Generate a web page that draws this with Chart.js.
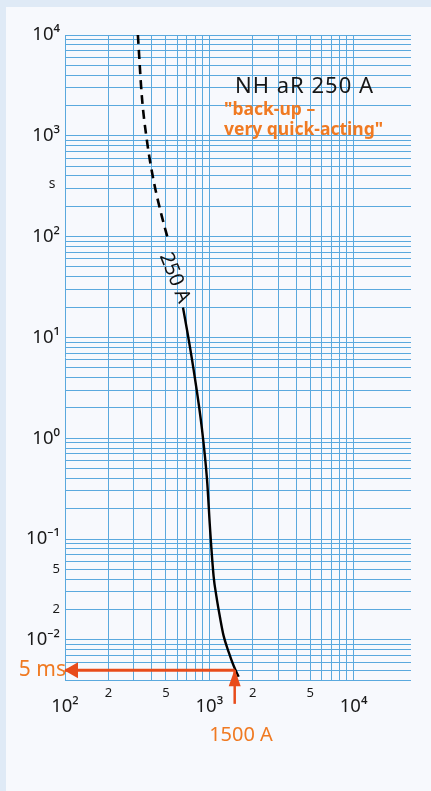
<!DOCTYPE html>
<html><head><meta charset="utf-8">
<script src="https://cdn.jsdelivr.net/npm/chart.js@4/dist/chart.umd.min.js"></script>
<style>
html,body{margin:0;padding:0;width:431px;height:791px;overflow:hidden;background:#dfeaf6;}
#panel{position:absolute;left:6px;top:7px;right:0;bottom:0;background:#f7f9fd;}
#c{position:absolute;left:0;top:0;}
</style></head><body>
<div id="panel"></div>
<canvas id="c" width="431" height="791"></canvas>
<script>
// ---- data (prospective current in A, time in s) ----
const dashedCurrent = [320, 341, 369, 410, 469, 522];
const dashedTime    = [10000, 2450, 912, 367, 159, 90];
const solidCurrent  = [657, 700, 778, 890, 964, 1016, 1071, 1119, 1192, 1257, 1361, 1475, 1597];
const solidTime     = [19.8, 12.0, 4.82, 1.23, 0.393, 0.117, 0.0430, 0.0273, 0.0161, 0.01096, 0.0076, 0.00553, 0.0043];

const markCurrent = 1500;      // A
const markTime = 0.005;        // s (5 ms)
const arrowTailTime = 0.00232; // below the axis
const axisMinCurrent = 100;

// ---- axis ranges, grid and tick labels ----
const xMin = 100, xMax = 25000;
const yMin = 0.004, yMax = 10000;
const gridMantissas = [1, 2, 3, 4, 5, 6, 7, 8, 9];
const xDecades = [100, 1000, 10000];
const yDecades = [0.001, 0.01, 0.1, 1, 10, 100, 1000, 10000];
const xLabelValues = [100, 200, 500, 1000, 2000, 5000, 10000];
const xLabelTexts  = ['10²', '2', '5', '10³', '2', '5', '10⁴'];
const yLabelValues = [10000, 1000, 100, 10, 1, 0.1, 0.05, 0.02, 0.01];
const yLabelTexts  = ['10⁴', '10³', '10²', '10¹', '10⁰', '10⁻¹', '5', '2', '10⁻²'];

const titleText = 'NH aR 250 A';
const subtitleLines = ['"back-up –', 'very quick-acting"'];
const curveLabel = '250 A';
const unitLabel = 's';
const timeMarkLabel = '5 ms';
const currentMarkLabel = '1500 A';

const ORANGE_TEXT = '#f07a22';
const ORANGE_ARROW = '#e84c1b';
const GRID = '#5aa9de';

function gridValues(decades, lo, hi) {
  const out = [];
  decades.forEach(d => gridMantissas.forEach(m => {
    const v = d * m;
    if (v >= lo * (1 - 1e-9) && v <= hi * (1 + 1e-9)) out.push(v);
  }));
  return out;
}
const xGrid = gridValues(xDecades, 100, 10000);
const yGrid = gridValues(yDecades, yMin, yMax);

function findLabel(values, texts, v) {
  for (let i = 0; i < values.length; i++) {
    if (Math.abs(Math.log10(v / values[i])) < 1e-6) return texts[i];
  }
  return '';
}
const isDecadeLabel = t => t.startsWith('10');

Chart.defaults.font.family = "'Noto Sans', 'Open Sans', 'DejaVu Sans', sans-serif";
Chart.defaults.color = '#1a1a1a';

const annot = {
  id: 'annot',
  afterDatasetsDraw(chart) {
    const ctx = chart.ctx;
    chart.data.datasets.forEach((ds, i) => {
      if (!ds.arrowHead) return;
      const pts = chart.getDatasetMeta(i).data;
      const a = pts[pts.length - 2], b = pts[pts.length - 1];
      const ang = Math.atan2(b.y - a.y, b.x - a.x);
      const { len, width } = ds.arrowHead;
      ctx.save();
      ctx.translate(b.x, b.y);
      ctx.rotate(ang);
      ctx.beginPath();
      ctx.moveTo(1, 0);
      ctx.lineTo(-len, -width / 2);
      ctx.lineTo(-len, width / 2);
      ctx.closePath();
      ctx.fillStyle = ds.borderColor;
      ctx.fill();
      ctx.restore();
    });
  },
  afterDraw(chart) {
    const ctx = chart.ctx, xs = chart.scales.x, ys = chart.scales.y;
    const fam = Chart.defaults.font.family;
    ctx.save();
    ctx.textBaseline = 'middle';
    // title
    ctx.fillStyle = '#161616';
    ctx.font = '22px ' + fam;
    ctx.textAlign = 'left';
    ctx.letterSpacing = '1px';
    ctx.fillText(titleText, 235, 87);
    ctx.letterSpacing = '0px';
    ctx.fillStyle = ORANGE_TEXT;
    ctx.font = 'bold 17.5px ' + fam;
    ctx.fillText(subtitleLines[0], 224, 110);
    ctx.fillText(subtitleLines[1], 224, 130);
    // unit
    ctx.fillStyle = '#1a1a1a';
    ctx.font = '14px ' + fam;
    ctx.textAlign = 'center';
    ctx.fillText(unitLabel, 52, 184);
    // curve label
    ctx.save();
    ctx.translate(xs.getPixelForValue(575), ys.getPixelForValue(39));
    ctx.rotate(68 * Math.PI / 180);
    ctx.font = '20px ' + fam;
    ctx.fillStyle = '#111';
    ctx.fillText(curveLabel, 0, 0);
    ctx.restore();
    // marks
    ctx.fillStyle = ORANGE_TEXT;
    ctx.font = '21px ' + fam;
    ctx.textAlign = 'right';
    ctx.fillText(timeMarkLabel, 66, ys.getPixelForValue(markTime));
    ctx.font = '20px ' + fam;
    ctx.textAlign = 'center';
    ctx.fillText(currentMarkLabel, 241, 735);
    ctx.restore();
  }
};

new Chart(document.getElementById('c'), {
  type: 'line',
  data: {
    datasets: [
      {
        label: 'up arrow',
        data: [{ x: markCurrent, y: arrowTailTime }, { x: markCurrent, y: markTime }],
        borderColor: ORANGE_ARROW, borderWidth: 2.5, pointRadius: 0, clip: false,
        arrowHead: { len: 16, width: 12 }
      },
      {
        label: '5 ms arrow',
        data: [{ x: markCurrent, y: markTime }, { x: axisMinCurrent, y: markTime }],
        borderColor: ORANGE_ARROW, borderWidth: 3, pointRadius: 0, clip: false,
        arrowHead: { len: 13, width: 16 }
      },
      {
        label: '250 A (pre-arcing)',
        data: dashedCurrent.map((c, i) => ({ x: c, y: dashedTime[i] })),
        borderColor: '#000', borderWidth: 2.6, borderDash: [9, 6],
        pointRadius: 0, cubicInterpolationMode: 'monotone'
      },
      {
        label: '250 A',
        data: solidCurrent.map((c, i) => ({ x: c, y: solidTime[i] })),
        borderColor: '#000', borderWidth: 2.4,
        pointRadius: 0, cubicInterpolationMode: 'monotone'
      }
    ]
  },
  options: {
    responsive: false,
    devicePixelRatio: 1,
    animation: false,
    layout: { padding: { left: 6, top: 35, right: 20, bottom: 71 } },
    plugins: { legend: { display: false }, tooltip: { enabled: false } },
    scales: {
      x: {
        type: 'logarithmic', position: 'bottom', min: xMin, max: xMax,
        afterBuildTicks: s => { s.ticks = xGrid.map(v => ({ value: v })); },
        afterFit: s => { s.height = 40; },
        border: { display: false },
        grid: { color: GRID, lineWidth: 1, drawTicks: false },
        ticks: {
          autoSkip: false, maxRotation: 0, minRotation: 0, padding: 5,
          color: '#1a1a1a',
          callback: v => {
            const t = findLabel(xLabelValues, xLabelTexts, v);
            return isDecadeLabel(t) ? ['', t] : t;
          },
          font: ctx => {
            const t = findLabel(xLabelValues, xLabelTexts, ctx.tick.value);
            return isDecadeLabel(t) ? { size: 18.5, lineHeight: 0.78 } : { size: 13, lineHeight: 1.2 };
          }
        }
      },
      y: {
        type: 'logarithmic', position: 'left', min: yMin, max: yMax,
        afterBuildTicks: s => { s.ticks = yGrid.map(v => ({ value: v })); },
        afterFit: s => { s.width = 59; },
        border: { display: false },
        grid: { color: GRID, lineWidth: 1, drawTicks: false },
        ticks: {
          autoSkip: false, padding: 5, color: '#1a1a1a',
          callback: v => findLabel(yLabelValues, yLabelTexts, v),
          font: ctx => {
            const t = findLabel(yLabelValues, yLabelTexts, ctx.tick.value);
            return isDecadeLabel(t) ? { size: 18.5 } : { size: 13 };
          }
        }
      }
    }
  },
  plugins: [annot]
});
</script>
</body></html>
